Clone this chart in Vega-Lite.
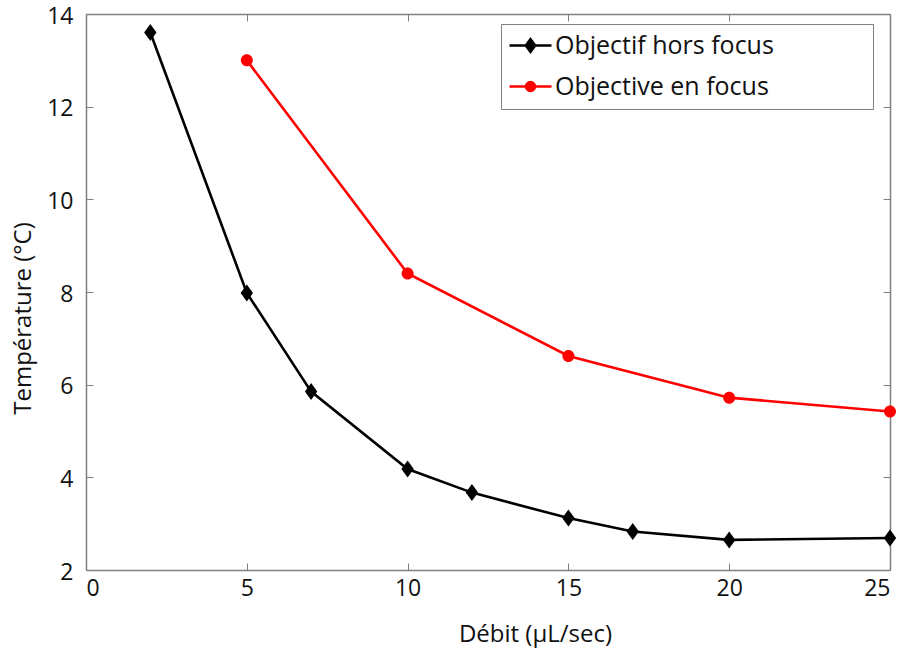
{
  "$schema": "https://vega.github.io/schema/vega-lite/v6.json",
  "width": 804,
  "height": 556,
  "autosize": {"type": "none"},
  "padding": {"left": 86, "top": 14, "right": 13, "bottom": 82},
  "background": "white",
  "config": {
    "view": {"stroke": null},
    "font": "Open Sans",
    "axis": {
      "grid": false,
      "domainColor": "#808080",
      "domainWidth": 1.5,
      "tickColor": "#808080",
      "tickWidth": 1,
      "tickSize": -7,
      "labelFont": "Open Sans",
      "labelFontSize": 23,
      "labelColor": "#111111",
      "titleFont": "Open Sans",
      "titleFontSize": 24,
      "titleFontWeight": "normal",
      "titleColor": "#111111"
    }
  },
  "data": {
    "values": [
      {"debit": 2, "temp": 13.6, "serie": "Objectif hors focus"},
      {"debit": 5, "temp": 7.98, "serie": "Objectif hors focus"},
      {"debit": 7, "temp": 5.85, "serie": "Objectif hors focus"},
      {"debit": 10, "temp": 4.18, "serie": "Objectif hors focus"},
      {"debit": 12, "temp": 3.67, "serie": "Objectif hors focus"},
      {"debit": 15, "temp": 3.12, "serie": "Objectif hors focus"},
      {"debit": 17, "temp": 2.83, "serie": "Objectif hors focus"},
      {"debit": 20, "temp": 2.65, "serie": "Objectif hors focus"},
      {"debit": 25, "temp": 2.69, "serie": "Objectif hors focus"},
      {"debit": 5, "temp": 13.0, "serie": "Objective en focus"},
      {"debit": 10, "temp": 8.4, "serie": "Objective en focus"},
      {"debit": 15, "temp": 6.62, "serie": "Objective en focus"},
      {"debit": 20, "temp": 5.72, "serie": "Objective en focus"},
      {"debit": 25, "temp": 5.42, "serie": "Objective en focus"}
    ]
  },
  "layer": [
    {
      "mark": {"type": "line", "strokeWidth": 2.6},
      "encoding": {
        "x": {
          "field": "debit", "type": "quantitative",
          "scale": {"domain": [0, 25], "nice": false, "zero": false},
          "axis": {"orient": "bottom", "values": [0, 5, 10, 15, 20, 25], "title": "Débit (µL/sec)",
                   "labelPadding": 14, "titleX": 449, "titleY": 64, "titleBaseline": "middle", "titleAnchor": null}
        },
        "y": {
          "field": "temp", "type": "quantitative",
          "scale": {"domain": [2, 14], "nice": false, "zero": false},
          "axis": {"orient": "left", "values": [2, 4, 6, 8, 10, 12, 14], "title": "Température (°C)",
                   "labelPadding": 20, "labelOffset": 2, "titleX": -63, "titleY": 304, "titleAngle": -90, "titleBaseline": "middle", "titleAnchor": null}
        },
        "color": {
          "field": "serie", "type": "nominal",
          "scale": {"domain": ["Objectif hors focus", "Objective en focus"], "range": ["#000000", "#ff0000"]},
          "legend": {
            "title": null,
            "orient": "none",
            "legendX": 415,
            "legendY": 10,
            "strokeColor": "#808080",
            "fillColor": "white",
            "padding": 9,
            "rowPadding": 15,
            "labelFont": "Open Sans",
            "labelFontSize": 25,
            "labelColor": "#111111",
            "labelLimit": 600,
            "symbolSize": 441,
            "symbolOffset": 8,
            "labelOffset": 12,
            "labelExpr": "datum.label + '\u2800\u2800\u2800\u2800\u2800'",
            "encode": {
              "symbols": {
                "update": {
                  "shape": {"signal": "datum.value == 'Objectif hors focus' ? 'M-2,0H2M0,-0.6L0.45,0L0,0.6L-0.45,0Z' : 'M-2,0H2M0.42,0A0.42,0.42 0 1,1 -0.42,0A0.42,0.42 0 1,1 0.42,0Z'"},
                  "fill": {"scale": "color", "field": "value"},
                  "stroke": {"scale": "color", "field": "value"},
                  "strokeWidth": {"value": 2.5},
                  "fillOpacity": {"value": 1},
                  "opacity": {"value": 1}
                }
              }
            }
          }
        }
      }
    },
    {
      "transform": [{"filter": "datum.serie == 'Objectif hors focus'"}],
      "mark": {"type": "point", "filled": true, "opacity": 1, "size": 400, "strokeWidth": 0, "shape": "M0,-0.85L0.62,0L0,0.85L-0.62,0Z"},
      "encoding": {
        "x": {
          "field": "debit", "type": "quantitative",
          "axis": {"orient": "top", "values": [0, 5, 10, 15, 20, 25], "labels": false, "title": null}
        },
        "y": {
          "field": "temp", "type": "quantitative",
          "axis": {"orient": "right", "values": [2, 4, 6, 8, 10, 12, 14], "labels": false, "title": null}
        },
        "color": {"field": "serie", "type": "nominal"}
      }
    },
    {
      "transform": [{"filter": "datum.serie == 'Objective en focus'"}],
      "mark": {"type": "point", "filled": true, "opacity": 1, "size": 400, "strokeWidth": 0, "shape": "M0.6,0A0.6,0.6 0 1,1 -0.6,0A0.6,0.6 0 1,1 0.6,0Z"},
      "encoding": {
        "x": {"field": "debit", "type": "quantitative", "axis": null},
        "y": {"field": "temp", "type": "quantitative", "axis": null},
        "color": {"field": "serie", "type": "nominal"}
      }
    }
  ],
  "resolve": {"axis": {"x": "independent", "y": "independent"}}
}
